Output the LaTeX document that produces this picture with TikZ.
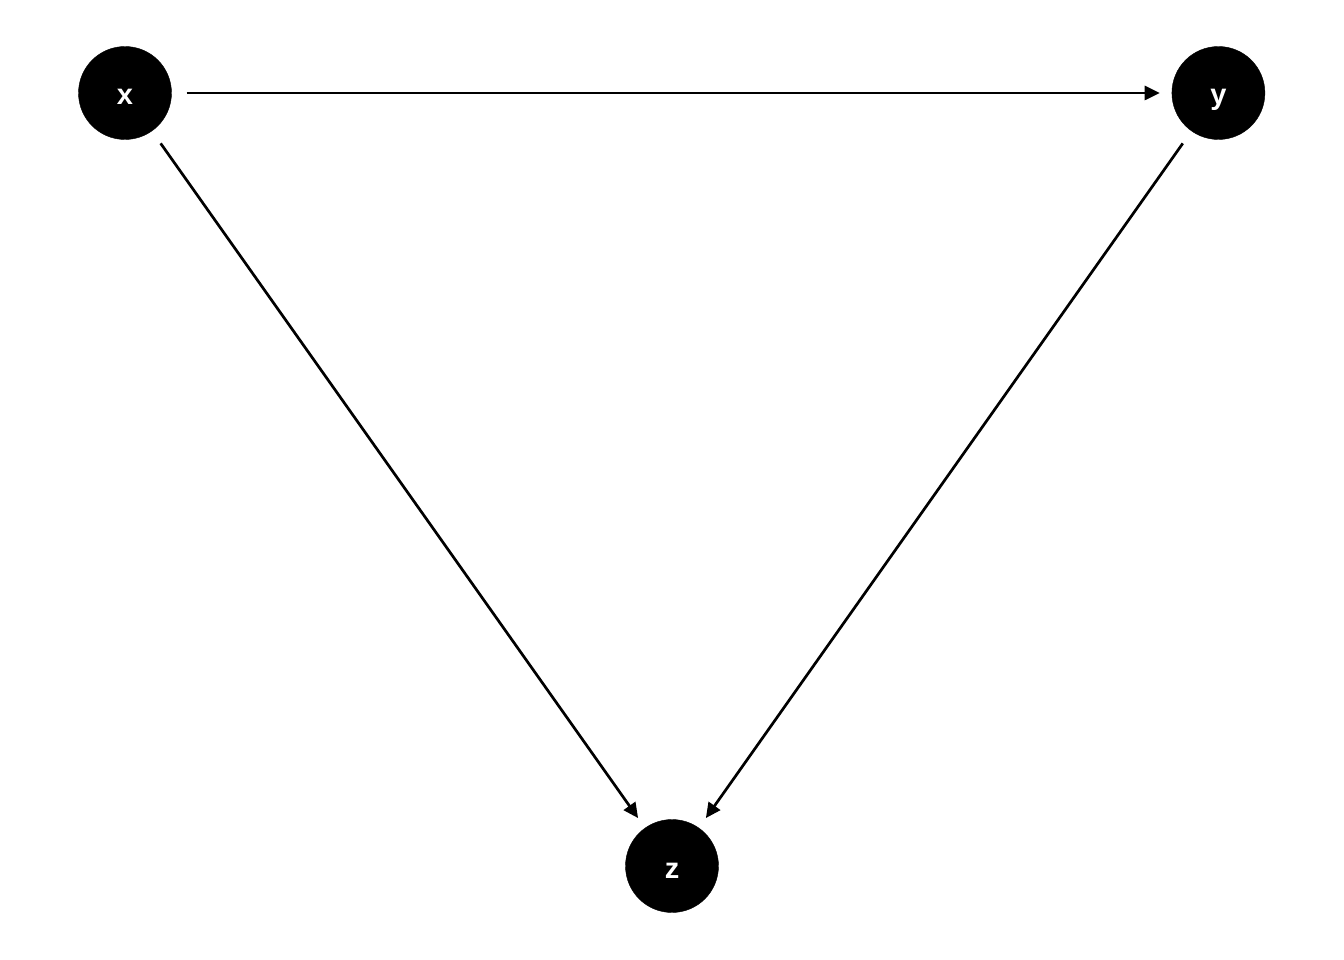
\documentclass[tikz,border=0pt]{standalone}
\usepackage{fontspec}
\setmainfont{Liberation Sans}
\usetikzlibrary{positioning, arrows.meta}

\begin{document}
\begin{tikzpicture}[x=1pt, y=-1pt, node distance=10pt,
  dagnode/.style={draw, fill=black, circle, minimum size=93pt, inner sep=0pt,
    text=white, font=\fontsize{29}{29}\selectfont\bfseries,
    text height=24pt, text depth=0pt},
  dagedge/.style={line width=2.7pt, -{Triangle[length=15pt, width=14pt]},
    shorten <=15pt, shorten >=12pt}]
  \useasboundingbox (0,0) rectangle (1344,960);
  \node[dagnode] at (125,93)     (X)  {x};
  \node[dagnode, right=1000pt of X]     (Y)  {y};
  \node[dagnode] at (672,866)     (Z)  {z};

  \draw[dagedge] (X) --  (Y);
  \draw[dagedge] (X) --  (Z);
  \draw[dagedge] (Y) --  (Z);
\end{tikzpicture}
\end{document}
